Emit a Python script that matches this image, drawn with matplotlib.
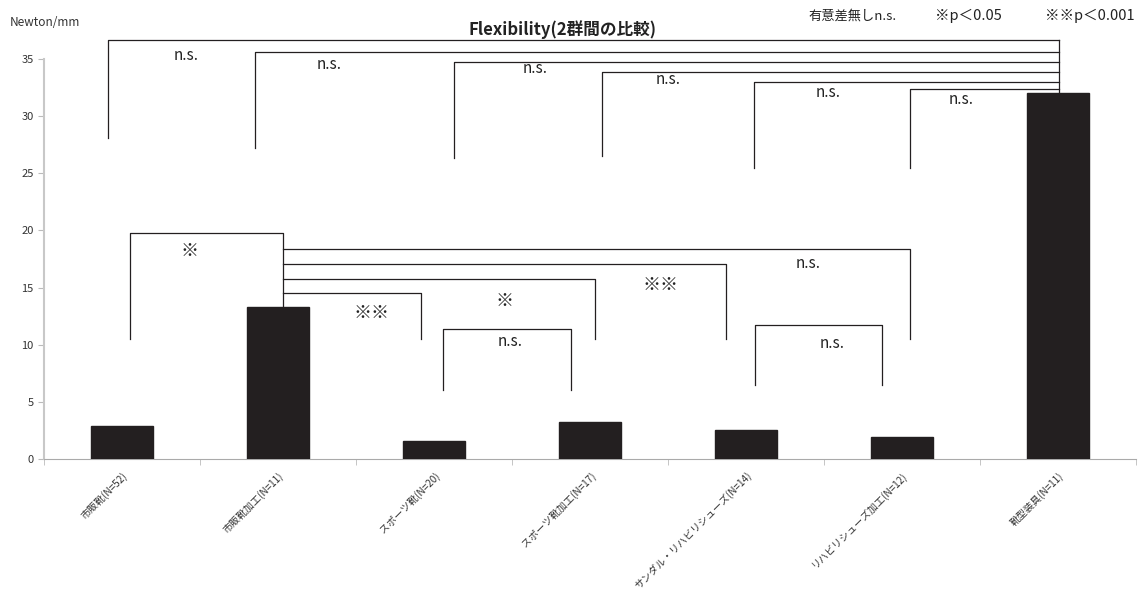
import matplotlib
matplotlib.use("Agg")
import matplotlib.pyplot as plt

plt.rcParams['font.family'] = ['Noto Sans CJK JP', 'DejaVu Sans']

categories = ["市販靴(N=52)", "市販靴加工(N=11)", "スポーツ靴(N=20)", "スポーツ靴加工(N=17)",
              "サンダル・リハビリシューズ(N=14)", "リハビリシューズ加工(N=12)", "靴型装具(N=11)"]
values = [2.9, 13.3, 1.6, 3.2, 2.5, 1.9, 32.0]
yticks = [0, 5, 10, 15, 20, 25, 30, 35]

# brackets: (left x, right x, top y, left bottom y, label, label x, label y)
top_brackets = [
    (-0.09, 6.01, 36.66, 28.1, "n.s.", 0.41, 35.35),
    (0.85, 6.01, 35.6, 27.2, "n.s.", 1.33, 34.55),
    (2.13, 6.01, 34.7, 26.3, "n.s.", 2.65, 34.2),
    (3.08, 6.01, 33.9, 26.5, "n.s.", 3.50, 33.25),
    (4.05, 6.01, 33.0, 25.5, "n.s.", 4.53, 32.1),
    (5.05, 6.01, 32.4, 25.5, "n.s.", 5.38, 31.5),
]
pair_brackets = [
    (0.05, 1.03, 19.8, 10.5, 13.3, "※", 0.43, 18.2),
    (2.06, 2.88, 11.4, 6.0, 6.0, "n.s.", 2.49, 10.3),
    (4.06, 4.87, 11.7, 6.5, 6.5, "n.s.", 4.55, 10.1),
]
from_bar2 = [
    (5.05, 18.4, 10.5, "n.s.", 4.40, 17.1),
    (3.87, 17.1, 10.5, "※※", 3.45, 15.2),
    (3.03, 15.75, 10.5, "※", 2.45, 13.8),
    (1.92, 14.5, 10.5, "※※", 1.60, 12.8),
]
bar2_x = 1.03

fig = plt.figure(figsize=(11.45, 5.96), dpi=100)
ax = fig.add_axes([0.0384, 0.2299, 0.9536, 0.6711])

x = list(range(len(categories)))
ax.bar(x, values, width=0.4, color='#231f20', edgecolor='#231f20', zorder=3)
ax.set_xlim(-0.5, len(categories) - 0.5)
ax.set_ylim(0, 35)
ax.set_yticks(yticks)
ax.set_yticklabels([str(v) for v in yticks], fontsize=8, color='#333333')
ax.set_xticks(x)
ax.set_xticklabels(categories, rotation=45, ha='right', rotation_mode='anchor',
                   fontsize=7.2, color='#333333')
ax.tick_params(axis='x', length=0, pad=8)
ax.set_xticks([i - 0.5 for i in range(len(categories) + 1)], minor=True)
ax.tick_params(axis='x', which='minor', length=4, color='#bbbbbb')
ax.tick_params(axis='y', length=4, color='#bbbbbb')
for s in ['top', 'right']:
    ax.spines[s].set_visible(False)
ax.spines['left'].set_color('#c8c8c8')
ax.spines['left'].set_linewidth(1.5)
ax.spines['bottom'].set_color('#aaaaaa')

lc = '#231f20'
lw = 0.9
for (xl, xr, yt, yb, lab, lx, ly) in top_brackets:
    ax.plot([xl, xl, xr], [yb, yt, yt], color=lc, lw=lw, clip_on=False, zorder=4)
    ax.text(lx, ly, lab, ha='center', va='center', fontsize=11, color='#222222')
ax.plot([6.01, 6.01], [top_brackets[0][2], values[6]], color=lc, lw=lw, clip_on=False, zorder=4)

for (xl, xr, yt, ybl, ybr, lab, lx, ly) in pair_brackets:
    ax.plot([xl, xl, xr, xr], [ybl, yt, yt, ybr], color=lc, lw=lw, clip_on=False, zorder=4)
    ax.text(lx, ly, lab, ha='center', va='center', fontsize=11 if lab == "n.s." else 13,
            color='#222222')

for (xr, yt, yb, lab, lx, ly) in from_bar2:
    ax.plot([bar2_x, xr, xr], [yt, yt, yb], color=lc, lw=lw, clip_on=False, zorder=4)
    ax.text(lx, ly, lab, ha='center', va='center', fontsize=11 if lab == "n.s." else 13,
            color='#222222')

fig.text(563 / 1145, 1 - 30 / 596, "Flexibility(2群間の比較)", ha='center', va='center',
         fontsize=12, fontweight='bold', color='#222222')
fig.text(10 / 1145, 1 - 23 / 596, "Newton/mm", ha='left', va='center', fontsize=8.5,
         color='#333333')
fig.text(808 / 1145, 1 - 16 / 596, "有意差無しn.s.", ha='left', va='center', fontsize=9.5,
         color='#222222')
fig.text(935 / 1145, 1 - 16 / 596, "※p＜0.05", ha='left', va='center', fontsize=10.5,
         color='#222222')
fig.text(1045 / 1145, 1 - 16 / 596, "※※p＜0.001", ha='left', va='center', fontsize=10.5,
         color='#222222')

fig.savefig("out.png", dpi=100)
